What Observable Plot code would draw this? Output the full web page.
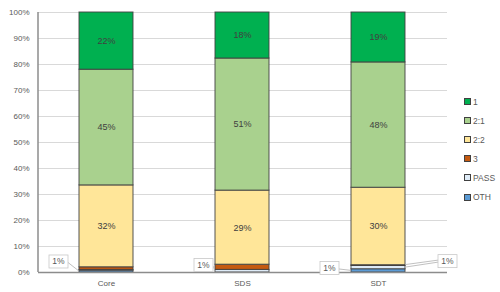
<!DOCTYPE html>
<html><head><meta charset="utf-8">
<script src="https://cdn.jsdelivr.net/npm/d3@7"></script>
<script src="https://cdn.jsdelivr.net/npm/@observablehq/plot@0.6"></script>
<style>
body{margin:0;background:#fff;}
#wrap{position:relative;width:500px;height:292px;font-family:"Liberation Sans",Arial,sans-serif;}
#legend{position:absolute;left:464px;top:92px;}
.li{display:flex;align-items:center;height:19.1px;font-size:8.5px;color:#595959;}
.sw{width:5px;height:5px;border:1px solid #404040;margin-right:2px;}
</style></head><body><div id="wrap"><div id="legend"></div></div>
<script>
// ---- data ----
const categories = ["Core", "SDS", "SDT"];
const segments = ["1", "2:1", "2:2", "3", "PASS", "OTH"]; // legend order (top of stack first)
const segColors = ["#00b050", "#a9d18e", "#ffe699", "#c55a11", "#deebf7", "#5b9bd5"];
const v1    = [22.0, 17.7, 19.2];
const v21   = [44.5, 50.8, 48.2];
const v22   = [31.5, 28.5, 29.8];
const v3    = [1.0, 2.0, 0.3];
const vPass = [0.3, 1.0, 1.25];
const vOth  = [0.7, 0.0, 1.25];
const labeledSegments = ["1", "2:1", "2:2"];
const yTicks = [0, 10, 20, 30, 40, 50, 60, 70, 80, 90, 100];
const callouts = [
  {cat: "Core", seg: "OTH", text: "1%"},
  {cat: "SDS", seg: "PASS", text: "1%"},
  {cat: "SDT", seg: "OTH", text: "1%"},
  {cat: "SDT", seg: "PASS", text: "1%"}
];

// ---- build table ----
const seriesBySeg = {"1": v1, "2:1": v21, "2:2": v22, "3": v3, "PASS": vPass, "OTH": vOth};
const stackOrder = segments.slice().reverse(); // bottom to top
const rows = [];
categories.forEach((c, i) => {
  let base = 0;
  stackOrder.forEach(s => {
    const v = seriesBySeg[s][i];
    rows.push({cat: c, seg: s, value: v, y0: base, y1: base + v});
    base += v;
  });
});
const labelRows = rows.filter(r => labeledSegments.includes(r.seg));

// layout for callouts (pixel offsets of label box from target point)
const calloutLayout = [
  {side: "left", dx: -20.5, dy: -9.6},
  {side: "left", dx: -11.5, dy: -5.7},
  {side: "left", dx: -21.5, dy: -2.4},
  {side: "right", dx: 42.5, dy: -6}
];

const plot = Plot.plot({
  width: 500, height: 292,
  marginLeft: 38, marginRight: 53, marginTop: 12, marginBottom: 20,
  style: {fontFamily: "Liberation Sans, Arial, sans-serif", fontSize: "8px", color: "#595959", background: "#fff"},
  x: {domain: categories, paddingInner: 0.6, paddingOuter: 0.3, label: null},
  y: {domain: [0, 100], label: null},
  color: {domain: segments, range: segColors},
  marks: [
    Plot.gridY(yTicks, {stroke: "#d9d9d9", strokeOpacity: 1, strokeWidth: 1}),
    Plot.axisY(yTicks, {tickSize: 0, tickPadding: 9, tickFormat: d => d + "%", fill: "#595959", fontSize: 8}),
    Plot.axisX({tickSize: 0, tickPadding: 8, fill: "#595959", fontSize: 8}),
    Plot.rectY(rows, {x: "cat", y1: "y0", y2: "y1", fill: "seg", stroke: "#404040", strokeWidth: 1, strokeOpacity: 0.9}),
    Plot.text(labelRows, {x: "cat", y: r => (r.y0 + r.y1) / 2, text: r => Math.round(r.value) + "%", fill: "#404040", fontSize: 9}),
    Plot.ruleY([0], {stroke: "#8c8c8c", strokeWidth: 1.5})
  ]
});
document.getElementById("wrap").prepend(plot);

const xs = plot.scale("x"), ys = plot.scale("y");
const svg = d3.select(plot);
// left axis line
svg.append("line").attr("x1", xs.range[0]).attr("x2", xs.range[0])
  .attr("y1", ys.apply(0)).attr("y2", ys.apply(100))
  .attr("stroke", "#8c8c8c").attr("stroke-width", 1.5);

// callouts
const g = svg.append("g");
callouts.forEach((c, i) => {
  const L = calloutLayout[i];
  const r = rows.find(d => d.cat === c.cat && d.seg === c.seg);
  const x0 = xs.apply(c.cat), x1 = x0 + xs.bandwidth;
  const tx = L.side === "left" ? x0 : x1;
  const ty = ys.apply((r.y0 + r.y1) / 2);
  const cx = tx + L.dx, cy = ty + L.dy;
  const bw = 19, bh = 13;
  const ex = L.side === "left" ? cx + bw / 2 : cx - bw / 2;
  g.append("line").attr("x1", ex).attr("y1", cy + 1).attr("x2", tx).attr("y2", ty)
    .attr("stroke", "#b0b0b0").attr("stroke-width", 0.8);
  if (L.side === "right") {
    g.append("line").attr("x1", ex).attr("y1", cy - 1).attr("x2", tx).attr("y2", ty - 2.5)
      .attr("stroke", "#b0b0b0").attr("stroke-width", 0.8);
  }
  g.append("rect").attr("x", cx - bw / 2).attr("y", cy - bh / 2).attr("width", bw).attr("height", bh)
    .attr("fill", "#fff").attr("stroke", "#c8c8c8").attr("stroke-width", 0.8);
  g.append("text").attr("x", cx).attr("y", cy).attr("dy", "0.35em").attr("text-anchor", "middle")
    .attr("fill", "#595959").attr("font-size", 8.5).text(c.text);
});

// legend
const leg = document.getElementById("legend");
segments.forEach((s, i) => {
  const d = document.createElement("div");
  d.className = "li";
  d.innerHTML = `<span class="sw" style="background:${segColors[i]}"></span><span>${s}</span>`;
  leg.appendChild(d);
});
</script></body></html>
